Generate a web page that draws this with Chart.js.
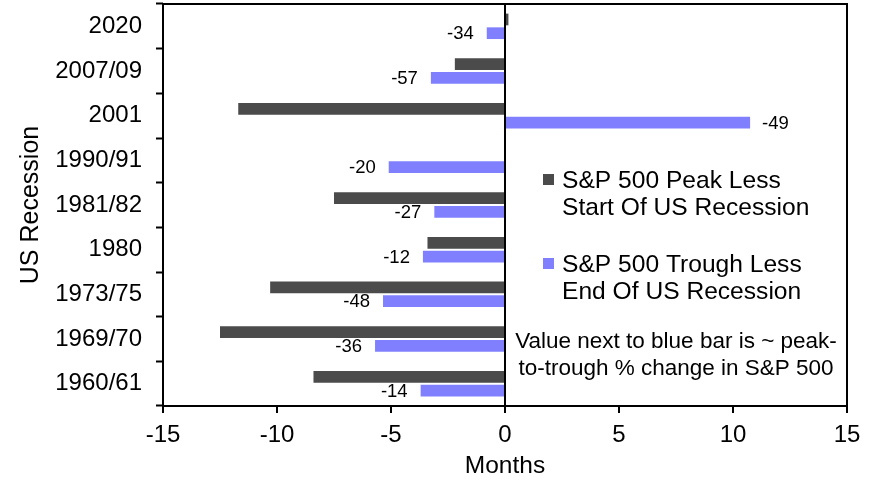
<!DOCTYPE html>
<html><head><meta charset="utf-8">
<script src="https://cdn.jsdelivr.net/npm/chart.js@4/dist/chart.umd.min.js"></script>
<style>html,body{margin:0;padding:0;background:#fff}#wrap{width:877px;height:486px;position:relative}</style>
</head><body><div id="wrap"><canvas id="c" width="877" height="486"></canvas></div>
<script>
const categories = ['2020','2007/09','2001','1990/91','1981/82','1980','1973/75','1969/70','1960/61'];
const peakLessStart = [0.15,-2.2,-11.7,null,-7.5,-3.4,-10.3,-12.5,-8.4];
const troughLessEnd = [-0.8,-3.25,10.75,-5.1,-3.1,-3.6,-5.35,-5.7,-3.7];
const peakToTroughPct = [-34,-57,-49,-20,-27,-12,-48,-36,-14];
const seriesNames = [['S&P 500 Peak Less','Start Of US Recession'],['S&P 500 Trough Less','End Of US Recession']];
const xMin = -15, xMax = 15, xStep = 5;
const noteLines = ['Value next to blue bar is ~ peak-','to-trough % change in S&P 500'];

const FONT = "'Liberation Sans', Arial, sans-serif";
const DARK = '#4b4b4b', BLUE = '#8080FF';

const framePlugin = {
  id: 'frame',
  afterDatasetsDraw(chart) {
    const {ctx, chartArea: a} = chart;
    ctx.save();
    const meta = chart.getDatasetMeta(1);
    ctx.font = '18.5px ' + FONT;
    ctx.fillStyle = '#000';
    ctx.textBaseline = 'middle';
    meta.data.forEach((el, i) => {
      const v = troughLessEnd[i];
      const t = String(peakToTroughPct[i]);
      if (v < 0) { ctx.textAlign = 'right'; ctx.fillText(t, el.x - 13, el.y + 1); }
      else { ctx.textAlign = 'left'; ctx.fillText(t, el.x + 12, el.y + 1); }
    });
    ctx.strokeStyle = '#000';
    ctx.lineWidth = 2;
    ctx.strokeRect(a.left, a.top, a.right - a.left, a.bottom - a.top);
    const lx = a.left + 380, tx = a.left + 399;
    const items = [{c: DARK, y: 188}, {c: BLUE, y: 272}];
    ctx.font = '24.6px ' + FONT;
    ctx.textAlign = 'left';
    ctx.textBaseline = 'alphabetic';
    items.forEach((it, k) => {
      ctx.fillStyle = it.c;
      ctx.fillRect(lx, it.y - 14, 11, 11);
      ctx.fillStyle = '#000';
      seriesNames[k].forEach((ln, j) => ctx.fillText(ln, tx, it.y + j * 27));
    });
    ctx.font = '22.5px ' + FONT;
    ctx.textAlign = 'center';
    const cx = a.left + 513;
    noteLines.forEach((ln, j) => ctx.fillText(ln, cx, 348 + j * 27));
    ctx.restore();
  }
};

new Chart(document.getElementById('c'), {
  type: 'bar',
  data: {
    labels: categories,
    datasets: [
      {label: seriesNames[0].join(' '), data: peakLessStart, backgroundColor: DARK, borderWidth: 0,
       categoryPercentage: 0.614, barPercentage: 0.854},
      {label: seriesNames[1].join(' '), data: troughLessEnd, backgroundColor: BLUE, borderWidth: 0,
       categoryPercentage: 0.614, barPercentage: 0.854}
    ]
  },
  options: {
    indexAxis: 'y',
    responsive: false,
    animation: false,
    devicePixelRatio: 1,
    layout: {autoPadding: false, padding: {top: 4, right: 30, bottom: 0, left: 0}},
    plugins: {legend: {display: false}, tooltip: {enabled: false}},
    scales: {
      x: {
        type: 'linear', min: xMin, max: xMax,
        border: {display: false},
        ticks: {stepSize: xStep, color: '#000', font: {family: FONT, size: 24}, padding: 8},
        grid: {
          color: c => (c.tick && c.tick.value === 0) ? '#000' : 'rgba(0,0,0,0)',
          lineWidth: 2, tickColor: '#000', tickLength: 7, tickWidth: 2
        },
        title: {display: true, text: 'Months', color: '#000', font: {family: FONT, size: 24.5}, padding: {top: 0, bottom: 4.6}},
        afterFit: s => { s.height = 80; s.paddingLeft = 0; s.paddingRight = 0; }
      },
      y: {
        type: 'category',
        border: {display: false},
        ticks: {color: '#000', font: {family: FONT, size: 24}, padding: 14},
        grid: {color: 'rgba(0,0,0,0)', tickColor: '#000', tickLength: 7, tickWidth: 2, offset: true},
        title: {display: true, text: 'US Recession', color: '#000', font: {family: FONT, size: 25}, padding: {top: 16, bottom: 0}},
        afterFit: s => { s.width = 163; s.paddingTop = 0; s.paddingBottom = 0; }
      }
    }
  },
  plugins: [framePlugin]
});
</script></body></html>
